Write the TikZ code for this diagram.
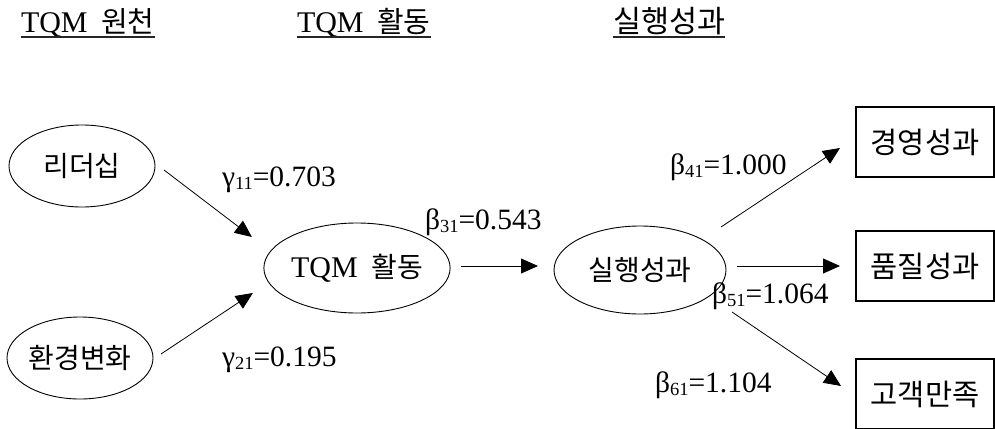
\documentclass[tikz,border=0pt]{standalone}
\usepackage{fontspec}
\setmainfont{Liberation Serif}
\newfontfamily\kr{Noto Sans CJK KR}
\usetikzlibrary{shapes.geometric,arrows.meta}
\newcommand{\mysub}[1]{\raisebox{-3pt}{\fontsize{18.5}{18}\selectfont #1}}
\begin{document}
\begin{tikzpicture}[x=1pt,y=-1pt,
  every node/.style={inner sep=0pt,outer sep=0pt},
  ell/.style={draw,ellipse,line width=0.9pt},
  box/.style={draw,rectangle,line width=1.1pt,minimum width=138pt,minimum height=70pt},
  arr/.style={line width=0.8pt,-{Triangle[length=17pt,width=15pt]}},
  lat/.style={font=\fontsize{30}{32}\selectfont},
  kor/.style={font=\fontsize{28}{30}\selectfont\kr},
  korb/.style={font=\fontsize{29.5}{30}\selectfont\kr},
  lab/.style={anchor=base west,font=\fontsize{29.5}{30}\selectfont},
  ttl/.style={anchor=base west,font=\fontsize{30}{32}\selectfont},
  uline/.style={line width=1.4pt,draw=black!85}
]
\useasboundingbox (0,0) rectangle (995,428);

% titles
\node[ttl] (t1) at (21,33) {TQM\hspace{0.45em}{\kr\fontsize{29}{30}\selectfont 원천}};
\node[ttl] (t2) at (297,33) {TQM\hspace{0.45em}{\kr\fontsize{29}{30}\selectfont 활동}};
\node[ttl] (t3) at (613,33) {{\kr\fontsize{30.5}{32}\selectfont 실행성과}};
\draw[uline] ([yshift=-4pt]t1.base west) -- ([yshift=-4pt]t1.base east);
\draw[uline] ([yshift=-4pt]t2.base west) -- ([yshift=-4pt]t2.base east);
\draw[uline] ([yshift=-4pt]t3.base west) -- ([yshift=-4pt]t3.base east);

% ellipses
\node[ell,kor,minimum width=146pt,minimum height=82pt] (e1) at (82,166) {리더십};
\node[ell,kor,minimum width=146pt,minimum height=82pt] (e2) at (80,358) {환경변화};
\node[ell,lat,minimum width=184pt,minimum height=90pt] (e3) at (357,268) {TQM\hspace{0.45em}{\kr\fontsize{28}{30}\selectfont 활동}};
\node[ell,kor,minimum width=172pt,minimum height=88pt] (e4) at (640,270) {실행성과};

% boxes
\node[box,korb] (b1) at (925,142) {경영성과};
\node[box,korb] (b2) at (925,266) {품질성과};
\node[box,korb] (b3) at (925,394) {고객만족};

% arrows
\draw[arr] ([shift={(9,4)}]e1.east) -- ([shift={(-12,-31)}]e3.west);
\draw[arr] ([shift={(8,-4)}]e2.east) -- ([shift={(-11,25)}]e3.west);
\draw[arr] ([shift={(11,-2)}]e3.east) -- ([shift={(-16,-4)}]e4.west);
\draw[arr] ([shift={(-5,-43)}]e4.east) -- ([shift={(-16,6)}]b1.west);
\draw[arr] ([shift={(11,-4)}]e4.east) -- ([shift={(-16,0)}]b2.west);
\draw[arr] ([shift={(6,42)}]e4.east) -- ([shift={(-15,-8)}]b3.west);

% labels
\node[lab] (g11) at (222,186) {γ\mysub{11}=0.703};
\node[lab] (g21) at (222,366) {γ\mysub{21}=0.195};
\node[lab] (b31) at (425,229) {β\mysub{31}=0.543};
\node[lab] (b41) at (670,174) {β\mysub{41}=1.000};
\node[lab] (b51) at (712,303) {β\mysub{51}=1.064};
\node[lab] (b61) at (655,392) {β\mysub{61}=1.104};
\end{tikzpicture}
\end{document}
